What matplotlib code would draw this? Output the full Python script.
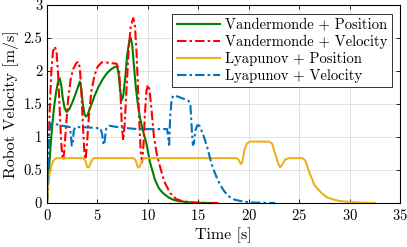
import matplotlib
matplotlib.use('Agg')
import matplotlib.pyplot as plt

plt.rcParams['font.family'] = 'serif'
plt.rcParams['font.serif'] = ['cmr10']
plt.rcParams['mathtext.fontset'] = 'cm'
plt.rcParams['axes.formatter.use_mathtext'] = True

# Vandermonde + Position
vp_t = [0, 0.1, 0.3, 0.5, 0.7, 0.9, 1.1, 1.25, 1.4, 1.55, 1.75, 1.95, 2.2, 2.5, 2.8, 3.05,
        3.25, 3.4, 3.55, 3.7, 3.85, 4.0, 4.3, 4.7, 5.1, 5.5, 5.9, 6.3, 6.7, 6.95, 7.1,
        7.25, 7.4, 7.55, 7.75, 7.95, 8.15, 8.3, 8.45, 8.6, 8.8, 9.0, 9.2, 9.5, 9.85,
        10.2, 10.7, 11.1, 11.5, 12.0, 12.5, 13.0, 14.0, 15.0, 16.0]
vp_v = [0, 0.3, 0.75, 1.15, 1.45, 1.68, 1.84, 1.89, 1.8, 1.6, 1.43, 1.38, 1.42, 1.52, 1.64, 1.75,
        1.84, 1.72, 1.5, 1.35, 1.31, 1.33, 1.45, 1.62, 1.76, 1.87, 1.96, 2.02, 2.06, 2.07, 1.95,
        1.7, 1.56, 1.62, 1.9, 2.25, 2.45, 2.5, 2.38, 2.1, 1.75, 1.5, 1.3, 1.1, 0.9,
        0.62, 0.35, 0.22, 0.15, 0.09, 0.05, 0.03, 0.012, 0.004, 0.0]

# Vandermonde + Velocity
vv_t = [0, 0.15, 0.3, 0.45, 0.6, 0.78, 0.95, 1.1, 1.25, 1.38, 1.5, 1.6, 1.72, 1.88, 2.1, 2.35,
        2.6, 2.9, 3.1, 3.25, 3.4, 3.55, 3.7, 3.82, 3.95, 4.15, 4.4, 4.7, 5.0, 5.4, 5.8,
        6.3, 6.9, 7.15, 7.3, 7.42, 7.55, 7.7, 7.9, 8.1, 8.3, 8.55, 8.7, 8.85, 9.0, 9.15,
        9.3, 9.42, 9.55, 9.7, 9.85, 10.0, 10.15, 10.35, 10.6, 10.9, 11.2, 11.6, 12.2,
        12.8, 13.5, 14.5, 15.5, 17.0]
vv_v = [0, 0.8, 1.55, 2.05, 2.3, 2.37, 2.28, 1.95, 1.45, 1.0, 0.72, 0.65, 0.8, 1.15, 1.58, 1.88,
        2.03, 2.12, 2.14, 2.05, 1.7, 1.2, 0.78, 0.66, 0.88, 1.32, 1.7, 1.93, 2.06, 2.13, 2.13,
        2.12, 2.11, 2.0, 1.6, 1.15, 0.95, 1.2, 1.8, 2.35, 2.68, 2.8, 2.7, 2.35, 1.8, 1.2,
        0.75, 0.62, 0.85, 1.35, 1.7, 1.79, 1.72, 1.42, 1.0, 0.72, 0.55, 0.33, 0.15,
        0.06, 0.025, 0.008, 0.003, 0.0]

# Lyapunov + Position
lp_t = [0, 0.1, 0.25, 0.4, 0.6, 0.8, 1.0, 3.6, 3.8, 4.0, 4.15, 4.35, 4.6, 8.6, 8.8, 9.0,
        9.15, 9.35, 9.6, 18.8, 19.0, 19.2, 19.35, 19.55, 19.8, 20.1, 22.0, 22.3, 22.6,
        22.9, 23.1, 23.3, 23.6, 24.0, 25.3, 25.6, 26.0, 26.5, 27.2, 27.7, 28.2, 29.0,
        29.8, 31.0, 32.5]
lp_v = [0, 0.22, 0.43, 0.55, 0.63, 0.67, 0.68, 0.68, 0.64, 0.54, 0.54, 0.62, 0.68, 0.68, 0.64, 0.54,
        0.54, 0.62, 0.68, 0.68, 0.65, 0.59, 0.62, 0.8, 0.9, 0.93, 0.93, 0.9, 0.75,
        0.6, 0.54, 0.58, 0.66, 0.68, 0.68, 0.64, 0.46, 0.27, 0.15, 0.09, 0.06, 0.03,
        0.02, 0.006, 0.0]

# Lyapunov + Velocity
lv_t = [0, 0.1, 0.2, 0.35, 0.6, 1.0, 1.5, 2.0, 2.25, 2.35, 2.45, 2.55, 2.65, 2.8, 3.5, 4.5,
        5.3, 5.45, 5.6, 5.7, 5.85, 6.2, 7.0, 8.2, 9.0, 10.0, 11.0, 11.9, 12.0, 12.1, 12.2,
        12.35, 12.55, 13.0, 13.5, 14.0, 14.2, 14.35, 14.45, 14.55, 14.7, 14.9, 15.1, 15.3,
        15.6, 15.9, 16.2, 16.4, 16.7, 16.9, 17.3, 17.6, 18.1, 18.6, 19.5, 20.5, 22.6]
lv_v = [0, 0.6, 1.05, 1.2, 1.21, 1.19, 1.17, 1.16, 1.15, 1.05, 0.87, 0.9, 1.1, 1.15, 1.15, 1.14,
        1.13, 1.05, 0.88, 0.92, 1.12, 1.17, 1.15, 1.13, 1.12, 1.12, 1.12, 1.12, 1.0, 0.88, 1.3,
        1.58, 1.63, 1.61, 1.58, 1.55, 1.5, 1.1, 0.88, 0.9, 1.1, 1.18, 1.17, 1.1,
        0.98, 0.83, 0.65, 0.55, 0.43, 0.35, 0.24, 0.17, 0.09, 0.05, 0.02, 0.006, 0.0]

x_ticks = [0, 5, 10, 15, 20, 25, 30, 35]
y_ticks = [0, 0.5, 1, 1.5, 2, 2.5, 3]
y_tick_labels = ['0', '0.5', '1', '1.5', '2', '2.5', '3']

fig = plt.figure(figsize=(4.07, 2.47), dpi=100)
ax = fig.add_axes([0.1155, 0.178, 0.868, 0.802])

dashdot = (0, (4.5, 1.5, 1.2, 1.5))
ax.plot(vp_t, vp_v, color='#008000', lw=1.5, label='Vandermonde + Position')
ax.plot(vv_t, vv_v, color='#ff0000', lw=1.5, linestyle=dashdot, label='Vandermonde + Velocity')
ax.plot(lp_t, lp_v, color='#EDB120', lw=1.5, label='Lyapunov + Position')
ax.plot(lv_t, lv_v, color='#0072BD', lw=1.5, linestyle=dashdot, label='Lyapunov + Velocity')

ax.set_xlim(0, 35)
ax.set_ylim(0, 3)
ax.set_xticks(x_ticks)
ax.set_yticks(y_ticks)
ax.set_yticklabels(y_tick_labels)
ax.tick_params(direction='in', top=True, right=True, labelsize=10.5, length=3, width=0.6,
               pad=3.5)
ax.grid(True, color='#dedede', linewidth=0.6)
ax.set_axisbelow(True)
for s in ax.spines.values():
    s.set_linewidth(0.8)
ax.set_xlabel('Time [s]', fontsize=11.5, labelpad=3)
ax.set_ylabel('Robot Velocity [m/s]', fontsize=11.5, labelpad=3)

leg = ax.legend(loc='upper right', fontsize=10.5, handlelength=3.0, handletextpad=0.3,
                labelspacing=0.2, borderpad=0.3, borderaxespad=0.6, fancybox=False,
                framealpha=1)
leg.get_frame().set_edgecolor('#333333')
leg.get_frame().set_linewidth(0.7)

plt.savefig('out.png', dpi=100)
